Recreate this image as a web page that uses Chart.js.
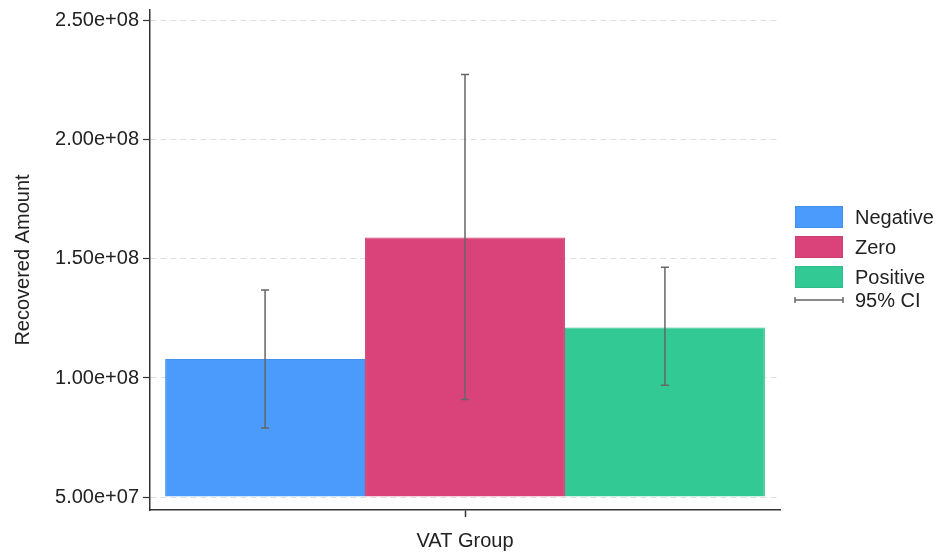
<!DOCTYPE html>
<html>
<head>
<meta charset="utf-8">
<script src="https://cdn.jsdelivr.net/npm/chart.js@4.4.0/dist/chart.umd.min.js"></script>
<style>
  html, body { margin: 0; padding: 0; background: #ffffff; }
  #wrap { width: 937px; height: 554px; }
</style>
</head>
<body>
<div id="wrap"><canvas id="chart" width="937" height="554"></canvas></div>
<script>
// Recovered amount by VAT group: mean and 95% confidence interval
const groupLabel = 'VAT Group';
const seriesNames = ['Negative', 'Zero', 'Positive'];
const meanAmount = [1.08e8, 1.59e8, 1.212e8];
const ciLower = [7.9e7, 9.1e7, 9.7e7];
const ciUpper = [1.37e8, 2.275e8, 1.465e8];
const yTicks = [5e7, 1e8, 1.5e8, 2e8, 2.5e8];
const barBase = 5e7;
const ciLabel = '95% CI';

const barColors = ['#4a9bfb', '#da4379', '#33c995'];
const barEdges = ['#4490ee', '#cc3d70', '#2fbd8b'];
const FONT = "'Liberation Sans', Arial, Helvetica, sans-serif";
const TEXT = '#222222';
const AXIS = '#333333';
const CI_COLOR = '#666666';

// 2.50e+08 style labels (two-digit exponent)
function sciLabel(v) {
  const [mant, exp] = Number(v).toExponential(2).split('e');
  return mant + 'e' + exp[0] + exp.slice(1).padStart(2, '0');
}

// Vertical confidence-interval whiskers centred on each bar
const ciWhiskers = {
  id: 'ciWhiskers',
  afterDatasetsDraw(chart) {
    const { ctx } = chart;
    const y = chart.scales.y;
    ctx.save();
    ctx.strokeStyle = CI_COLOR;
    ctx.lineWidth = 1.5;
    chart.data.datasets.forEach((ds, i) => {
      const bar = chart.getDatasetMeta(i).data[0];
      if (!bar) return;
      const x = bar.x;
      const yLo = y.getPixelForValue(ciLower[i]);
      const yHi = y.getPixelForValue(ciUpper[i]);
      ctx.beginPath();
      ctx.moveTo(x, yLo); ctx.lineTo(x, yHi);
      ctx.moveTo(x - 4, yLo); ctx.lineTo(x + 4, yLo);
      ctx.moveTo(x - 4, yHi); ctx.lineTo(x + 4, yHi);
      ctx.stroke();
    });
    ctx.restore();
  }
};

// Legend to the right of the plot: colour keys plus the CI whisker key
const sideLegend = {
  id: 'sideLegend',
  afterDraw(chart) {
    const { ctx, chartArea } = chart;
    const x0 = chartArea.right + 15;
    const boxW = 48, boxH = 22, rowH = 30;
    const top = 206;
    ctx.save();
    ctx.font = '20px ' + FONT;
    ctx.textBaseline = 'middle';
    ctx.textAlign = 'left';
    chart.data.datasets.forEach((ds, i) => {
      const yTop = top + i * rowH;
      ctx.fillStyle = ds.backgroundColor;
      ctx.fillRect(x0, yTop, boxW, boxH);
      ctx.strokeStyle = ds.borderColor;
      ctx.lineWidth = 1;
      ctx.strokeRect(x0 + 0.5, yTop + 0.5, boxW - 1, boxH - 1);
      ctx.fillStyle = TEXT;
      ctx.fillText(ds.label, x0 + 60, yTop + boxH / 2 + 1);
    });
    const yCi = top + 3 * rowH + 4;
    ctx.strokeStyle = CI_COLOR;
    ctx.lineWidth = 1.5;
    ctx.beginPath();
    ctx.moveTo(x0, yCi); ctx.lineTo(x0 + boxW, yCi);
    ctx.moveTo(x0, yCi - 3); ctx.lineTo(x0, yCi + 3);
    ctx.moveTo(x0 + boxW, yCi - 3); ctx.lineTo(x0 + boxW, yCi + 3);
    ctx.stroke();
    ctx.fillStyle = TEXT;
    ctx.fillText(ciLabel, x0 + 60, yCi + 1);
    ctx.restore();
  }
};

new Chart(document.getElementById('chart'), {
  type: 'bar',
  data: {
    labels: [groupLabel],
    datasets: seriesNames.map((name, i) => ({
      label: name,
      data: [meanAmount[i]],
      base: barBase,
      backgroundColor: barColors[i],
      borderColor: barEdges[i],
      borderWidth: 1,
      barPercentage: 1,
      categoryPercentage: 0.952
    }))
  },
  options: {
    responsive: false,
    animation: false,
    layout: { padding: { top: 10, right: 157, bottom: 0, left: 0 } },
    plugins: {
      legend: { display: false },
      tooltip: { enabled: false }
    },
    scales: {
      x: {
        type: 'category',
        grid: {
          display: true, offset: false, drawOnChartArea: false,
          drawTicks: true, tickLength: 7, color: AXIS, tickColor: AXIS, tickWidth: 1.5
        },
        border: { display: true, color: AXIS, width: 1.5 },
        ticks: { display: false },
        title: {
          display: true, text: groupLabel, color: TEXT,
          font: { family: FONT, size: 20 }, padding: { top: 0, bottom: 1 }
        },
        afterFit(scale) { scale.height = 44; }
      },
      y: {
        type: 'linear',
        min: 4.454e7,
        max: 2.546e8,
        afterBuildTicks(scale) { scale.ticks = yTicks.map(v => ({ value: v })); },
        ticks: {
          callback: v => sciLabel(v),
          color: TEXT,
          font: { family: FONT, size: 20 },
          padding: 4
        },
        grid: {
          color: '#dedede', lineWidth: 1,
          drawTicks: true, tickLength: 7, tickColor: AXIS, tickWidth: 1.2, tickBorderDash: []
        },
        border: { display: true, color: AXIS, width: 1.5, dash: [6, 4] },
        title: {
          display: true, text: 'Recovered Amount', color: TEXT,
          font: { family: FONT, size: 20 }, padding: { top: 11, bottom: 0 }
        },
        afterFit(scale) {
          scale.width = 150;
          // the plot spans the full height between the layout paddings
          scale.paddingTop = 0;
          scale.paddingBottom = 0;
        }
      }
    }
  },
  plugins: [ciWhiskers, sideLegend]
});
</script>
</body>
</html>
